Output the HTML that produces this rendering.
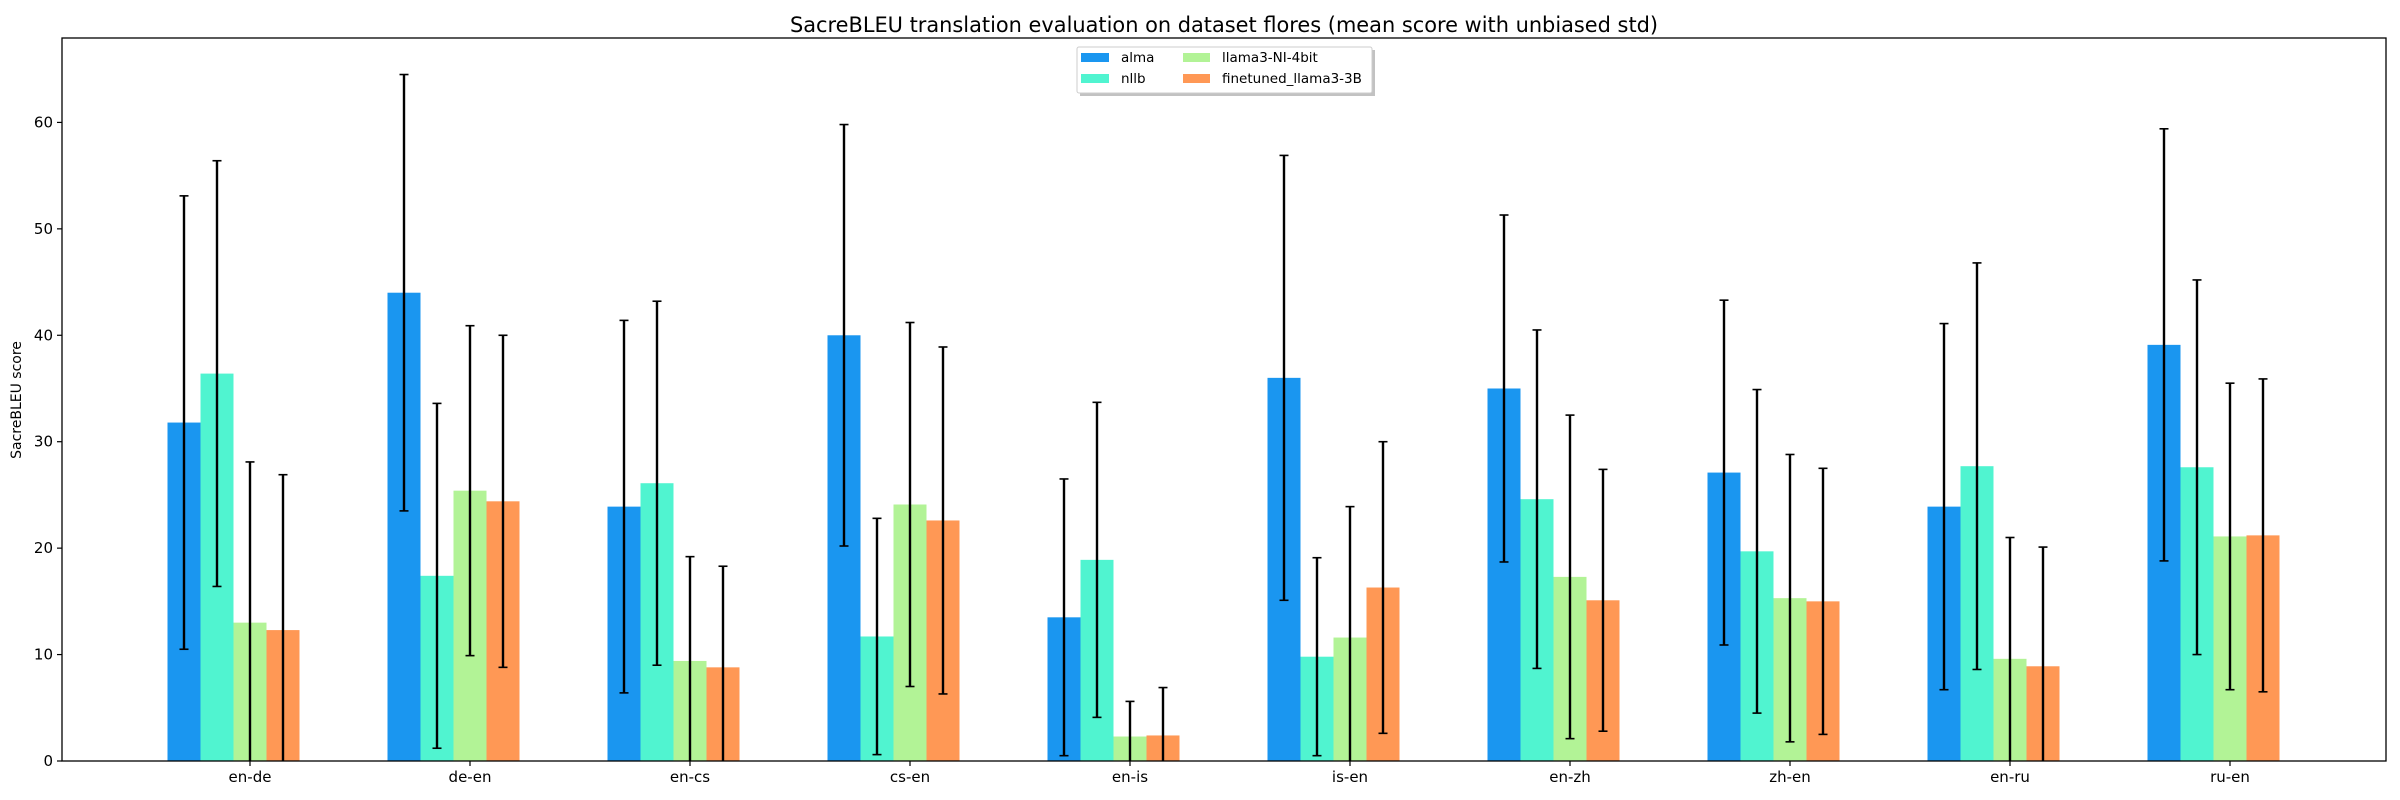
<!DOCTYPE html>
<html><head><meta charset="utf-8"><style>
html,body{margin:0;padding:0;background:#fff;}
svg{display:block;font-family:"DejaVu Sans","Liberation Sans",sans-serif;}
</style></head><body>
<svg id="chart" width="2400" height="800" viewBox="0 0 2400 800" xmlns="http://www.w3.org/2000/svg">
<defs><clipPath id="plotclip"><rect x="62" y="38" width="2324" height="723"/></clipPath></defs>
<text x="1224" y="32" text-anchor="middle" font-size="20.9" fill="#000">SacreBLEU translation evaluation on dataset flores (mean score with unbiased std)</text>
<text transform="translate(21,400) rotate(-90)" text-anchor="middle" font-size="14" fill="#000">SacreBLEU score</text>
<g id="bars" clip-path="url(#plotclip)"></g>
<g id="errs" clip-path="url(#plotclip)"></g>
<g id="axes"></g>
<rect x="62" y="38" width="2324" height="723" fill="none" stroke="#000" stroke-width="1.3"/>
<g>
<rect x="1080" y="50" width="295" height="46" fill="#999" opacity="0.6"/>
<rect x="1077" y="47" width="295" height="46" rx="2" fill="#fff" stroke="#ccc" stroke-width="1"/>
<g><rect x="1081" y="53" width="28" height="9" fill="#1a96f0"/><text x="1121" y="62" font-size="13.5">alma</text></g>
<g><rect x="1081" y="74" width="28" height="9" fill="#50f4d0"/><text x="1121" y="83" font-size="13.5">nllb</text></g>
<g><rect x="1183" y="53" width="27" height="9" fill="#b2f396"/><text x="1222" y="62" font-size="13.5">llama3-NI-4bit</text></g>
<g><rect x="1183" y="74" width="27" height="9" fill="#ff9855"/><text x="1222" y="83" font-size="13.5">finetuned_llama3-3B</text></g>
</g>
</svg>
<script>
const categories = ["en-de","de-en","en-cs","cs-en","en-is","is-en","en-zh","zh-en","en-ru","ru-en"];
const seriesNames = ["alma","nllb","llama3-NI-4bit","finetuned_llama3-3B"];
const almaMean = [31.8,44.0,23.9,40.0,13.5,36.0,35.0,27.1,23.9,39.1];
const almaStd = [21.3,20.5,17.5,19.8,13.0,20.9,16.3,16.2,17.2,20.3];
const nllbMean = [36.4,17.4,26.1,11.7,18.9,9.8,24.6,19.7,27.7,27.6];
const nllbStd = [20.0,16.2,17.1,11.1,14.8,9.3,15.9,15.2,19.1,17.6];
const llamaMean = [13.0,25.4,9.4,24.1,2.3,11.6,17.3,15.3,9.6,21.1];
const llamaStd = [15.1,15.5,9.8,17.1,3.3,12.3,15.2,13.5,11.4,14.4];
const ftMean = [12.3,24.4,8.8,22.6,2.4,16.3,15.1,15.0,8.9,21.2];
const ftStd = [14.6,15.6,9.5,16.3,4.5,13.7,12.3,12.5,11.2,14.7];
const yTicks = [0,10,20,30,40,50,60];

const means=[almaMean,nllbMean,llamaMean,ftMean];
const stds=[almaStd,nllbStd,llamaStd,ftStd];
const colors=["#1a96f0","#50f4d0","#b2f396","#ff9855"];
const NS="http://www.w3.org/2000/svg";
const x0=250, step=220, bw=33;
function xPos(i){return x0+step*i;}
function yPos(v){return 761 - v*10.643;}
function mk(t,a,p){const e=document.createElementNS(NS,t);for(const k in a)e.setAttribute(k,a[k]);p.appendChild(e);return e;}
const gB=document.getElementById('bars'),gE=document.getElementById('errs'),gA=document.getElementById('axes');
for(let s=0;s<4;s++){
  for(let i=0;i<categories.length;i++){
    const cx=xPos(i)+(s-2)*bw, m=means[s][i], sd=stds[s][i];
    const r=mk('rect',{x:cx-bw/2,y:yPos(m),width:bw,height:yPos(0)-yPos(m),fill:colors[s]},gB);
    
    
    const g=mk('g',{stroke:'#000','stroke-width':2.4},gE);
    
    
    mk('line',{x1:cx,x2:cx,y1:yPos(m+sd),y2:yPos(m-sd)},g);
    mk('line',{x1:cx-4.5,x2:cx+4.5,y1:yPos(m+sd),y2:yPos(m+sd),'stroke-width':1.6},g);
    mk('line',{x1:cx-4.5,x2:cx+4.5,y1:yPos(m-sd),y2:yPos(m-sd),'stroke-width':1.6},g);
  }
}
yTicks.forEach(v=>{
  const y=yPos(v);
  mk('line',{x1:57,x2:62,y1:y,y2:y,stroke:'#000','stroke-width':1.2},gA);
  const t=mk('text',{x:53,y:y+5,'text-anchor':'end','font-size':15},gA);
  t.textContent=v;
  
  
});
categories.forEach((c,i)=>{
  const x=xPos(i);
  mk('line',{x1:x,x2:x,y1:761,y2:766,stroke:'#000','stroke-width':1.2},gA);
  const t=mk('text',{x:x,y:782,'text-anchor':'middle','font-size':15},gA);
  t.textContent=c;
  
  
});
</script>
</body></html>
